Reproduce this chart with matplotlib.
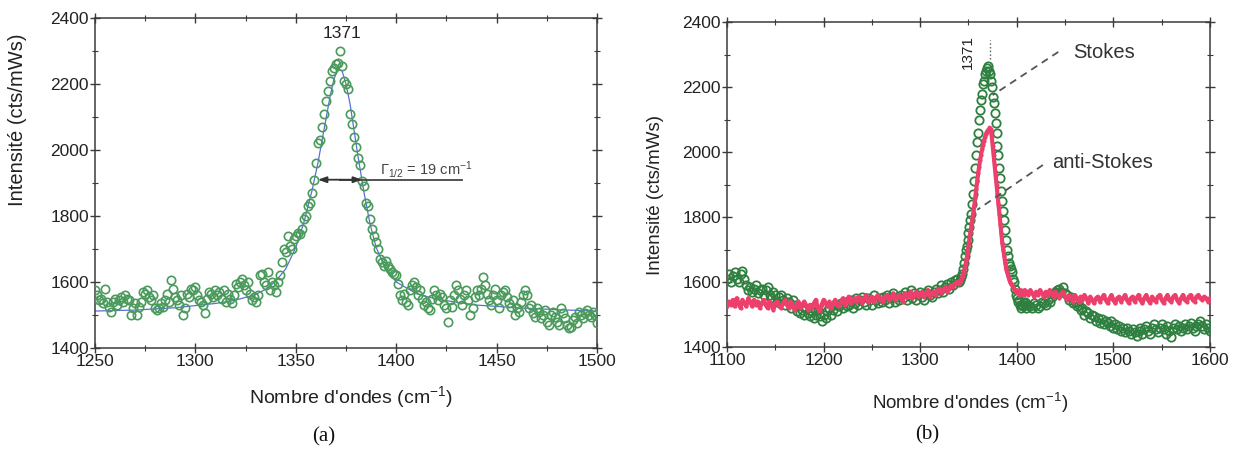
import numpy as np
import matplotlib
matplotlib.use("Agg")
import matplotlib.pyplot as plt
from matplotlib.ticker import MultipleLocator

plt.rcParams['font.family'] = ['Liberation Sans', 'DejaVu Sans']
plt.rcParams['mathtext.fontset'] = 'custom'
plt.rcParams['mathtext.rm'] = 'Liberation Sans'
plt.rcParams['mathtext.it'] = 'Liberation Sans:italic'

# ---------------- Panel (a) data ----------------
a_x_start, a_x_stop = 1250, 1500
a_stokes = [
    1575, 1560, 1545, 1550, 1535, 1580, 1540, 1525, 1510, 1540,
    1550, 1530, 1545, 1555, 1540, 1560, 1550, 1545, 1500, 1520,
    1535, 1500, 1525, 1540, 1570, 1565, 1575, 1555, 1545, 1560,
    1520, 1515, 1520, 1535, 1525, 1545, 1565, 1540, 1605, 1580,
    1555, 1545, 1530, 1560, 1500, 1520, 1565, 1555, 1580, 1575,
    1585, 1560, 1545, 1540, 1530, 1505, 1550, 1570, 1565, 1555,
    1575, 1560, 1570, 1550, 1575, 1540, 1565, 1550, 1535, 1560,
    1595, 1585, 1600, 1610, 1590, 1575, 1600, 1565, 1545, 1555,
    1540, 1560, 1620, 1625, 1600, 1590, 1630, 1575, 1600, 1590,
    1570, 1600, 1620, 1660, 1700, 1690, 1740, 1710, 1700, 1730,
    1740, 1750, 1745, 1760, 1790, 1800, 1830, 1840, 1870, 1910,
    1960, 2020, 2030, 2070, 2110, 2150, 2180, 2210, 2240, 2250,
    2260, 2265, 2300, 2255, 2210, 2200, 2185, 2110, 2080, 2040,
    2010, 1975, 1955, 1905, 1890, 1840, 1830, 1790, 1760, 1740,
    1720, 1700, 1670, 1660, 1650, 1665, 1650, 1640, 1630, 1625,
    1620, 1595, 1560, 1545, 1565, 1540, 1530, 1575, 1590, 1600,
    1585, 1560, 1575, 1550, 1530, 1540, 1520, 1515, 1550, 1575,
    1560, 1545, 1565, 1555, 1530, 1520, 1480, 1545, 1525, 1560,
    1590, 1575, 1550, 1530, 1560, 1575, 1545, 1500, 1520, 1555,
    1575, 1560, 1580, 1615, 1590, 1565, 1545, 1530, 1560, 1580,
    1545, 1520, 1560, 1570, 1575, 1555, 1535, 1525, 1545, 1500,
    1520, 1510, 1540, 1560, 1575, 1560, 1520, 1530, 1505, 1495,
    1520, 1510, 1490, 1500, 1515, 1480, 1470, 1500, 1510, 1495,
    1480, 1470, 1520, 1505, 1490, 1470, 1460, 1465, 1485, 1495,
    1475, 1510, 1500, 1490, 1505, 1515, 1500, 1495, 1510, 1500,
    1475,
]
fit_x = [1250, 1270, 1290, 1310, 1320, 1330, 1335, 1340, 1345, 1350, 1354,
         1358, 1361, 1364, 1367, 1369, 1371, 1373, 1375, 1377, 1379, 1381,
         1384, 1387, 1390, 1394, 1400, 1410, 1420, 1440, 1460, 1480, 1500]
fit_y = [1512, 1515, 1522, 1535, 1545, 1562, 1578, 1602, 1640, 1705, 1780,
         1875, 1960, 2060, 2160, 2215, 2245, 2240, 2200, 2140, 2060, 1980,
         1870, 1775, 1705, 1650, 1600, 1565, 1548, 1530, 1522, 1516, 1512]

# ---------------- Panel (b) data ----------------
b_seg1 = (1100, 1338, 2)
b_seg2 = (1340, 1410, 1)
b_seg3 = (1412, 1600, 2)
b_stokes = [
    1610, 1625, 1600, 1620, 1630, 1610, 1600, 1625, 1635, 1610,
    1590, 1575, 1585, 1570, 1580, 1590, 1565, 1575, 1580, 1560,
    1575, 1585, 1560, 1550, 1570, 1560, 1540, 1555, 1560, 1545,
    1530, 1550, 1540, 1520, 1545, 1530, 1510, 1525, 1505, 1515,
    1500, 1520, 1505, 1495, 1510, 1490, 1500, 1515, 1495, 1480,
    1500, 1490, 1510, 1520, 1500, 1515, 1530, 1510, 1525, 1535,
    1520, 1540, 1525, 1530, 1545, 1520, 1535, 1550, 1530, 1545,
    1555, 1540, 1530, 1550, 1545, 1530, 1560, 1545, 1535, 1550,
    1540, 1555, 1545, 1560, 1535, 1550, 1565, 1540, 1555, 1545,
    1560, 1550, 1570, 1545, 1560, 1575, 1550, 1565, 1545, 1560,
    1570, 1555, 1545, 1565, 1575, 1560, 1555, 1570, 1580, 1565,
    1575, 1590, 1570, 1585, 1595, 1580, 1600, 1590, 1605, 1610,
    # 1340-1410 step 1
    1600, 1605, 1615, 1625, 1640, 1660, 1680, 1700, 1710, 1730,
    1750, 1770, 1790, 1810, 1840, 1870, 1910, 1950, 1990, 2030,
    2060, 2100, 2130, 2160, 2180, 2210, 2220, 2240, 2250, 2260,
    2265, 2250, 2240, 2220, 2200, 2170, 2150, 2120, 2090, 2060,
    2020, 1990, 1950, 1920, 1880, 1850, 1820, 1790, 1760, 1730,
    1700, 1680, 1660, 1650, 1640, 1630, 1610, 1600, 1580, 1560,
    1550, 1540, 1545, 1530, 1520, 1530, 1525, 1535, 1540, 1530, 1520,
    # 1412-1600 step 2
    1530, 1525, 1520, 1535, 1530, 1520, 1525, 1540, 1535, 1530,
    1545, 1540, 1555, 1565, 1570, 1575, 1580, 1570, 1585, 1565,
    1560, 1545, 1555, 1535, 1540, 1525, 1530, 1515, 1520, 1500,
    1510, 1505, 1490, 1500, 1495, 1480, 1490, 1475, 1485, 1470,
    1480, 1475, 1465, 1480, 1460, 1470, 1455, 1465, 1450, 1460,
    1445, 1460, 1450, 1440, 1455, 1445, 1435, 1450, 1460, 1440,
    1455, 1465, 1450, 1440, 1460, 1470, 1455, 1445, 1460, 1470,
    1455, 1440, 1465, 1450, 1430, 1460, 1470, 1455, 1465, 1450,
    1460, 1470, 1455, 1465, 1475, 1460, 1450, 1465, 1470, 1480,
    1465, 1455, 1470, 1460, 1450,
]
b_antistokes = [
    1525, 1540, 1530, 1545, 1525, 1550, 1535, 1520, 1545, 1535,
    1525, 1550, 1540, 1525, 1545, 1530, 1540, 1520, 1535, 1545,
    1530, 1520, 1540, 1530, 1515, 1535, 1540, 1525, 1520, 1535,
    1545, 1530, 1520, 1540, 1525, 1515, 1530, 1540, 1520, 1530,
    1540, 1525, 1515, 1530, 1520, 1535, 1545, 1520, 1510, 1530,
    1545, 1535, 1525, 1540, 1520, 1535, 1545, 1530, 1525, 1540,
    1550, 1530, 1540, 1555, 1535, 1545, 1550, 1540, 1555, 1545,
    1535, 1550, 1560, 1540, 1545, 1555, 1540, 1550, 1560, 1545,
    1550, 1540, 1555, 1560, 1545, 1550, 1565, 1545, 1555, 1560,
    1550, 1540, 1565, 1555, 1560, 1570, 1550, 1560, 1570, 1555,
    1560, 1570, 1555, 1565, 1575, 1555, 1565, 1570, 1560, 1575,
    1580, 1565, 1575, 1585, 1570, 1580, 1590, 1585, 1595, 1600,
    # 1340-1410 step 1
    1595, 1600, 1605, 1612, 1620, 1630, 1642, 1655, 1670, 1690,
    1710, 1730, 1750, 1770, 1790, 1812, 1835, 1860, 1885, 1910,
    1935, 1955, 1975, 1992, 2008, 2022, 2035, 2045, 2055, 2062,
    2066, 2070, 2075, 2070, 2050, 2020, 1990, 1960, 1930, 1900,
    1870, 1840, 1810, 1780, 1750, 1720, 1700, 1680, 1660, 1640,
    1630, 1620, 1610, 1600, 1595, 1590, 1585, 1580, 1575, 1570,
    1575, 1565, 1570, 1560, 1575, 1565, 1570, 1560, 1575, 1565, 1570,
    # 1412-1600 step 2
    1560, 1575, 1565, 1555, 1570, 1560, 1575, 1565, 1555, 1570,
    1560, 1575, 1565, 1555, 1570, 1560, 1550, 1565, 1570, 1555,
    1545, 1560, 1555, 1540, 1560, 1550, 1540, 1555, 1545, 1560,
    1550, 1535, 1555, 1545, 1535, 1550, 1555, 1540, 1550, 1560,
    1545, 1535, 1550, 1560, 1545, 1535, 1550, 1555, 1540, 1550,
    1560, 1545, 1535, 1550, 1555, 1540, 1550, 1560, 1545, 1535,
    1550, 1560, 1545, 1535, 1555, 1545, 1540, 1555, 1560, 1545,
    1535, 1550, 1560, 1545, 1540, 1555, 1560, 1545, 1535, 1550,
    1560, 1545, 1540, 1555, 1560, 1545, 1540, 1555, 1560, 1550,
    1545, 1555, 1550, 1540, 1550,
]

a_x = np.arange(a_x_start, a_x_stop + 1, 1)
b_x = np.concatenate([np.arange(s, e + 1, st) for s, e, st in (b_seg1, b_seg2, b_seg3)])

GREEN_A = '#4a9a5c'
GREEN_B = '#2f8040'
RED = '#ec3f6b'
AXC = '#3a3a3a'
TXT = '#222222'

W, H = 1235, 451
fig = plt.figure(figsize=(W / 100, H / 100), dpi=100)

def px_axes(l, r, t, b):
    return fig.add_axes([l / W, 1 - b / H, (r - l) / W, (b - t) / H])

def style(ax, xmaj, xmin):
    ax.xaxis.set_major_locator(MultipleLocator(xmaj))
    ax.xaxis.set_minor_locator(MultipleLocator(xmin))
    ax.yaxis.set_major_locator(MultipleLocator(200))
    ax.yaxis.set_minor_locator(MultipleLocator(100))
    ax.tick_params(which='both', direction='inout', top=True, right=True,
                   colors=AXC, labelcolor=TXT)
    ax.tick_params(which='major', length=7, width=1, labelsize=12.5, pad=1)
    ax.tick_params(which='minor', length=4, width=0.8)
    for s in ax.spines.values():
        s.set_color(AXC)
        s.set_linewidth(1.1)

# ---------------- (a) ----------------
ax1 = px_axes(95, 597, 18, 348)
ax1.plot(fit_x, fit_y, color='#5a6fd6', lw=0.9, zorder=2)
ax1.plot(a_x, a_stokes, 'o', ms=6, mfc='none', mec=GREEN_A, mew=1.2, zorder=3)
ax1.set_xlim(1250, 1500)
ax1.set_ylim(1400, 2400)
style(ax1, 50, 25)
ax1.text(1373, 2352, '1371', ha='center', va='center', fontsize=12.5, color=TXT)
# FWHM arrows
ax1.plot([1372, 1433], [1910, 1910], color='#444444', lw=1.3, zorder=4)
ax1.annotate('', xy=(1361, 1910), xytext=(1372, 1910),
             arrowprops=dict(arrowstyle='-|>,head_length=0.5,head_width=0.18',
                             color='#333333', lw=1.3, shrinkA=0, shrinkB=0), zorder=4)
ax1.annotate('', xy=(1383, 1910), xytext=(1372, 1910),
             arrowprops=dict(arrowstyle='-|>,head_length=0.5,head_width=0.18',
                             color='#333333', lw=1.3, shrinkA=0, shrinkB=0), zorder=4)
ax1.text(1392, 1942, r'$\Gamma_{1/2}$ = 19 cm$^{-1}$', ha='left', va='center',
         fontsize=10.5, color='#444444')
fig.text(18 / W, 1 - 120 / H, 'Intensité (cts/mWs)', rotation=90, ha='center',
         va='center', fontsize=14.5, color=TXT)
fig.text(351 / W, 1 - 397 / H, "Nombre d'ondes (cm$^{-1}$)", ha='center', va='center',
         fontsize=14, color=TXT)
fig.text(324 / W, 1 - 437 / H, '(a)', ha='center', va='center', fontsize=15,
         family='Liberation Serif', color='#111111')

# ---------------- (b) ----------------
ax2 = px_axes(727, 1210, 22, 347)
ax2.plot(b_x, b_stokes, 'o', ms=6, mfc='none', mec=GREEN_B, mew=1.3, zorder=3)
ax2.plot(b_x, b_antistokes, '-', color=RED, lw=3.0, zorder=4)
ax2.plot(b_x, b_antistokes, 'o', ms=3.0, color=RED, mew=0, zorder=4)
ax2.set_xlim(1100, 1600)
ax2.set_ylim(1400, 2400)
style(ax2, 100, 50)
ax2.plot([1372, 1372], [2285, 2345], ls=':', color='#555555', lw=1.0, zorder=5)
ax2.text(1349, 2309, '1371', rotation=90, ha='center', va='center', fontsize=11,
         color=TXT)
ax2.plot([1443, 1375], [2308, 2175], ls=(0, (4, 3)), color='#555555', lw=1.3, zorder=5)
ax2.plot([1427, 1359], [1960, 1822], ls=(0, (4, 3)), color='#555555', lw=1.3, zorder=5)
ax2.text(1458, 2305, 'Stokes', ha='left', va='center', fontsize=14.5, color='#333333')
ax2.text(1437, 1969, 'anti-Stokes', ha='left', va='center', fontsize=14.5, color='#333333')
fig.text(655 / W, 1 - 195 / H, 'Intensité (cts/mWs)', rotation=90, ha='center',
         va='center', fontsize=13.5, color=TXT)
fig.text(970 / W, 1 - 403 / H, "Nombre d'ondes (cm$^{-1}$)", ha='center', va='center',
         fontsize=13.5, color=TXT)
fig.text(927 / W, 1 - 435 / H, '(b)', ha='center', va='center', fontsize=15,
         family='Liberation Serif', color='#111111')

fig.savefig('out.png', dpi=100)
